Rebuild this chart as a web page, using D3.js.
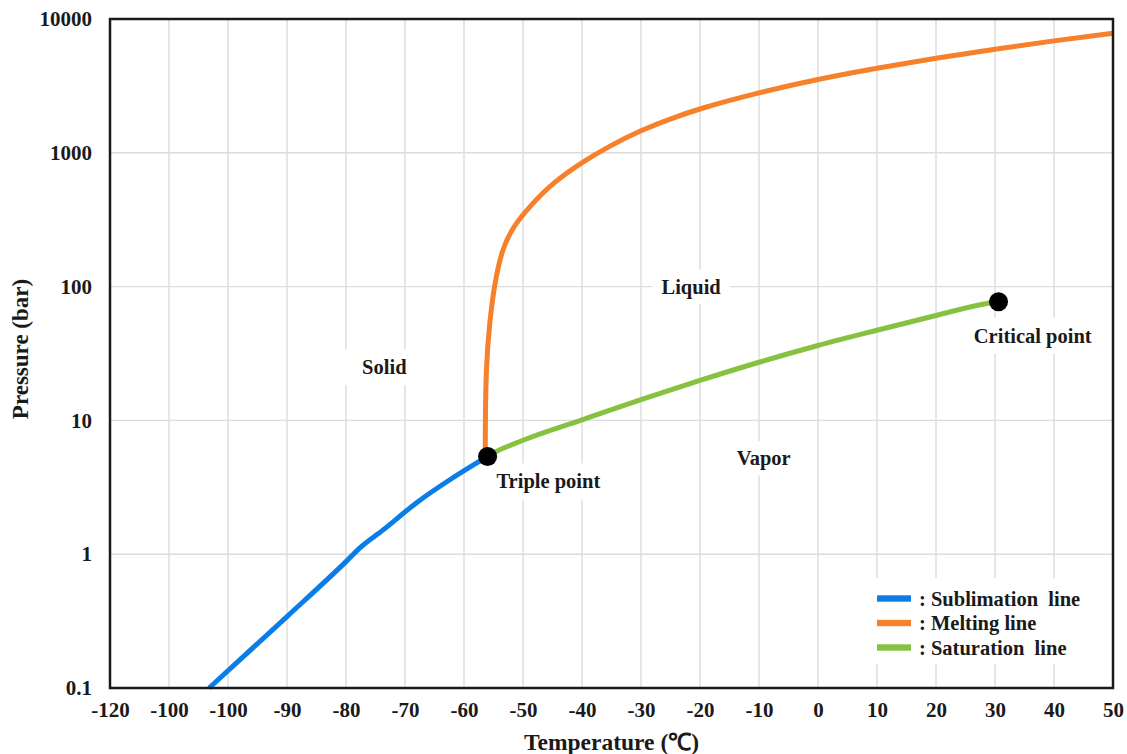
<!DOCTYPE html>
<html>
<head>
<meta charset="utf-8">
<script src="https://cdn.jsdelivr.net/npm/d3@7"></script>
<style>
  html, body { margin: 0; padding: 0; background: #fff; }
  svg text { font-family: "Liberation Serif", "Times New Roman", serif; font-weight: bold; fill: #1a1a1a; }
</style>
</head>
<body>
<svg id="chart" width="1127" height="754"></svg>
<script>
// ---- data ----
const xTickValues = [-120, -110, -100, -90, -80, -70, -60, -50, -40, -30, -20, -10, 0, 10, 20, 30, 40, 50];
const xTickLabels = ["-120", "-100", "-100", "-90", "-80", "-70", "-60", "-50", "-40", "-30", "-20", "-10", "0", "10", "20", "30", "40", "50"];
const yTickValues = [0.1, 1, 10, 100, 1000, 10000];
const yTickLabels = ["0.1", "1", "10", "100", "1000", "10000"];

// [temperature °C, pressure bar]
const sublimationLine = [[-103.2, 0.1], [-90, 0.342], [-80, 0.88], [-77.6, 1.12], [-73.7, 1.52], [-67.8, 2.47], [-62.4, 3.6], [-56.0, 5.38]];
const meltingLine = [[-56.4, 5.38], [-56.4, 7.2], [-56.3, 25.4], [-55.6, 56.8], [-54.9, 100], [-53.6, 190], [-51.6, 284], [-48.8, 401], [-44.9, 600], [-39.9, 855], [-35.3, 1128], [-29.9, 1480], [-25.1, 1790], [-20, 2147], [-10, 2826], [0, 3556], [10, 4300], [20, 5100], [30, 5960], [40, 6880], [50, 7820]];
const saturationLine = [[-56.0, 5.38], [-55, 5.71], [-50, 7.1], [-40, 10.1], [-30, 14.3], [-20, 19.9], [-10, 27.2], [0, 36.3], [10, 47.2], [20, 60.8], [28.6, 74.8], [30.6, 77]];
const specialPoints = [{ name: "Triple point", t: -56.0, p: 5.38 }, { name: "Critical point", t: 30.6, p: 77 }];
const regionLabels = [
  { name: "Solid", t: -73.5, p: 25 },
  { name: "Liquid", t: -21.5, p: 100 },
  { name: "Vapor", t: -9.2, p: 5.2 },
  { name: "Triple point", t: -45.7, p: 3.5 },
  { name: "Critical point", t: 36.4, p: 43 }
];
const legendNames = [": Sublimation  line", ": Melting line", ": Saturation  line"];
const colors = ["#0a7ee6", "#f7802a", "#86c140"];

// ---- layout ----
const svg = d3.select("#chart");
const pLeft = 110, pRight = 1113, pTop = 19, pBottom = 688;

const x = d3.scaleLinear().domain([-120, 50]).range([pLeft, pRight]);
const y = d3.scaleLog().domain([0.1, 10000]).range([pBottom, pTop]);

// gridlines
const grid = svg.append("g");
grid.selectAll("line.v").data(xTickValues).enter().append("line")
  .attr("x1", d => x(d)).attr("x2", d => x(d))
  .attr("y1", pTop).attr("y2", pBottom)
  .attr("stroke", "#dcdcdc").attr("stroke-width", 1.4);
grid.selectAll("line.h").data(yTickValues).enter().append("line")
  .attr("x1", pLeft).attr("x2", pRight)
  .attr("y1", d => y(d)).attr("y2", d => y(d))
  .attr("stroke", "#dcdcdc").attr("stroke-width", 1.4);

// white backgrounds behind labels
const bgBoxes = [
  { name: "Solid", w: 82, h: 36 },
  { name: "Liquid", w: 78, h: 34 },
  { name: "Vapor", w: 72, h: 34 },
  { name: "Triple point", w: 122, h: 36 },
  { name: "Critical point", w: 134, h: 36 }
];

// axes
const xAxis = d3.axisBottom(x).tickValues(xTickValues)
  .tickFormat((d, i) => xTickLabels[i]).tickSize(0).tickPadding(14);
const gx = svg.append("g").attr("transform", `translate(0,${pBottom})`).call(xAxis);
gx.select(".domain").remove();
gx.selectAll("text").attr("font-size", 21).attr("fill", "#1a1a1a");

const yAxis = d3.axisLeft(y).tickValues(yTickValues)
  .tickFormat((d, i) => yTickLabels[i]).tickSize(0).tickPadding(18);
const gy = svg.append("g").attr("transform", `translate(${pLeft},0)`).call(yAxis);
gy.select(".domain").remove();
gy.selectAll("text").attr("font-size", 21).attr("fill", "#1a1a1a");

// region labels with white boxes
const lbl = svg.append("g");
regionLabels.forEach(r => {
  const b = bgBoxes.find(bb => bb.name === r.name);
  const cx = x(r.t), cy = y(r.p);
  lbl.append("rect").attr("x", cx - b.w / 2).attr("y", cy - b.h / 2)
    .attr("width", b.w).attr("height", b.h).attr("fill", "#fff");
  lbl.append("text").attr("x", cx).attr("y", cy)
    .attr("text-anchor", "middle").attr("dominant-baseline", "central")
    .attr("font-size", 20.5).text(r.name);
});

// lines
const line = d3.line().x(d => x(d[0])).y(d => y(d[1]));
const series = [
  { data: sublimationLine, curve: d3.curveMonotoneX },
  { data: meltingLine, curve: d3.curveBasis },
  { data: saturationLine, curve: d3.curveMonotoneX }
];
series.forEach((s, i) => {
  svg.append("path").datum(s.data)
    .attr("d", line.curve(s.curve))
    .attr("fill", "none").attr("stroke", colors[i])
    .attr("stroke-width", 5).attr("stroke-linejoin", "round");
});

// special points
svg.selectAll("circle.pt").data(specialPoints).enter().append("circle")
  .attr("cx", d => x(d.t)).attr("cy", d => y(d.p)).attr("r", 9.5).attr("fill", "#000");

// frame
svg.append("rect").attr("x", pLeft).attr("y", pTop).attr("width", pRight - pLeft).attr("height", pBottom - pTop)
  .attr("fill", "none").attr("stroke", "#1a1a1a").attr("stroke-width", 2.5);

// legend
const lg = svg.append("g");
lg.append("rect").attr("x", 868).attr("y", 578).attr("width", 232).attr("height", 86).attr("fill", "#fff");
legendNames.forEach((n, i) => {
  const cy = 598.5 + i * 24.5;
  lg.append("rect").attr("x", 877).attr("y", cy - 3.2).attr("width", 34).attr("height", 6.4).attr("fill", colors[i]);
  lg.append("text").attr("x", 919).attr("y", cy).attr("dominant-baseline", "central")
    .attr("font-size", 20.5).attr("xml:space", "preserve").style("white-space", "pre").text(n);
});

// axis titles
svg.append("text").attr("x", (pLeft + pRight) / 2).attr("y", 750)
  .attr("text-anchor", "middle").attr("font-size", 23.5).text("Temperature (℃)");
svg.append("text").attr("transform", "translate(20,349) rotate(-90)")
  .attr("text-anchor", "middle").attr("dominant-baseline", "central")
  .attr("font-size", 23).text("Pressure (bar)");
</script>
</body>
</html>
